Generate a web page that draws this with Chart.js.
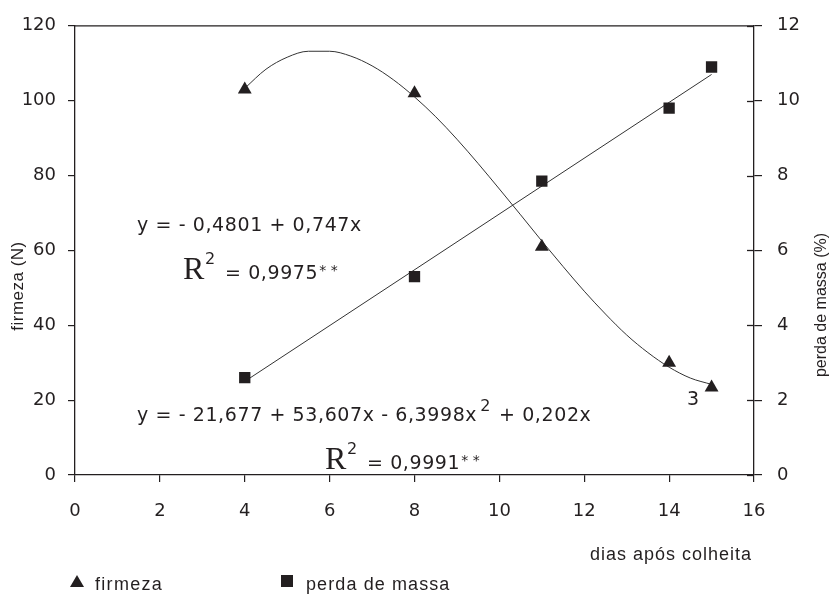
<!DOCTYPE html>
<html>
<head>
<meta charset="utf-8">
<script src="https://cdn.jsdelivr.net/npm/chart.js@4.4.1/dist/chart.umd.min.js"></script>
<style>
  html, body { margin: 0; background: #fff; }
  canvas { display: block; }
</style>
</head>
<body>
<canvas id="chart" width="832" height="596"></canvas>
<script>
// measured points
const days = [4, 8, 11, 14, 15];
const firmeza = [103, 102, 61, 30, 23.4];
const perdaMassa = [2.6, 5.3, 7.85, 9.8, 10.9];

// fitted curve for firmeza
const curveDays = [4, 4.5, 5, 5.5, 6, 6.5, 7, 7.5, 8, 8.5, 9, 9.5, 10,
  10.5, 11, 11.5, 12, 12.5, 13, 13.5, 14, 14.5, 15];
const curveFirmeza = [103.3, 108.4, 111.6, 113.2, 113.2, 111.9, 109.3, 105.6,
  101.0, 95.7, 89.7, 83.2, 76.4, 69.5, 62.5, 55.7, 49.1, 43.0, 37.4, 32.7,
  28.8, 25.9, 24.2];

// fitted line for perda de massa
const lineDays = [4, 15];
const linePerda = [2.5, 10.7];

// tick labels
const xTicks = [0, 2, 4, 6, 8, 10, 12, 14, 16];
const leftTicks = [0, 20, 40, 60, 80, 100, 120];
const rightTicks = [0, 2, 4, 6, 8, 10, 12];

const ink = "#231f20";
const tickFont = { family: "DejaVu Sans", size: 18 };

function toPoints(xs, ys) {
  return xs.map((x, i) => ({ x: x, y: ys[i] }));
}

// draw text with letter spacing
function spaced(ctx, text, x, y, font, spacing) {
  ctx.font = font;
  ctx.letterSpacing = spacing + "px";
  ctx.fillText(text, x, y);
  let w = ctx.measureText(text).width;
  ctx.letterSpacing = "0px";
  return x + w;
}

const extras = {
  id: "extras",
  afterDraw(chart) {
    const ctx = chart.ctx;
    const area = chart.chartArea;
    const y1 = chart.scales.y1;
    ctx.save();
    ctx.strokeStyle = ink;
    ctx.fillStyle = ink;
    ctx.lineWidth = 1.3;

    // top border
    ctx.beginPath();
    ctx.moveTo(area.left, area.top);
    ctx.lineTo(area.right, area.top);
    ctx.stroke();

    // inner half of the right axis ticks
    rightTicks.forEach(v => {
      let py = Math.round(y1.getPixelForValue(v)) + 0.5;
      ctx.beginPath();
      ctx.moveTo(area.right - 7, py);
      ctx.lineTo(area.right, py);
      ctx.stroke();
    });

    ctx.textBaseline = "alphabetic";
    ctx.textAlign = "left";
    const eqFont = "19px 'DejaVu Sans'";

    // linear fit equation
    spaced(ctx, "y = - 0,4801 + 0,747x", 137, 231, eqFont, 0.6);
    ctx.font = "32px 'Liberation Serif'";
    ctx.fillText("R", 183, 279);
    spaced(ctx, "2", 205, 264, "16px 'DejaVu Sans'", 0);
    let nx = spaced(ctx, "= 0,9975", 225, 279, eqFont, 0.6);
    spaced(ctx, "* *", nx + 1, 275, "14px 'DejaVu Sans'", 0);

    // cubic fit equation
    let ex = spaced(ctx, "y = - 21,677 + 53,607x - 6,3998x", 137, 421, eqFont, 0.6);
    ex = spaced(ctx, "2", ex + 3, 411, "16px 'DejaVu Sans'", 0);
    spaced(ctx, " + 0,202x", ex + 2, 421, eqFont, 0.6);
    spaced(ctx, "3", 687, 405, eqFont, 0);
    ctx.font = "32px 'Liberation Serif'";
    ctx.fillText("R", 325, 469);
    spaced(ctx, "2", 347, 454, "16px 'DejaVu Sans'", 0);
    nx = spaced(ctx, "= 0,9991", 367, 469, eqFont, 0.6);
    spaced(ctx, "* *", nx + 1, 465, "14px 'DejaVu Sans'", 0);

    // x axis title
    spaced(ctx, "dias após colheita", 590, 560, "18px 'Liberation Sans'", 1);

    // y axis titles
    ctx.textAlign = "center";
    ctx.textBaseline = "middle";
    ctx.save();
    ctx.translate(18, 286);
    ctx.rotate(-Math.PI / 2);
    spaced(ctx, "firmeza (N)", 0, 0, "17px 'Liberation Sans'", 0.5);
    ctx.restore();
    ctx.save();
    ctx.translate(822, 305);
    ctx.rotate(-Math.PI / 2);
    spaced(ctx, "perda de massa (%)", 0, 0, "16px 'Liberation Sans'", 0);
    ctx.restore();

    // legend
    ctx.textAlign = "left";
    ctx.textBaseline = "alphabetic";
    ctx.beginPath();
    ctx.moveTo(77, 575);
    ctx.lineTo(84, 587);
    ctx.lineTo(70, 587);
    ctx.closePath();
    ctx.fill();
    spaced(ctx, "firmeza", 95, 590, "18px 'Liberation Sans'", 1.3);
    ctx.fillRect(281, 575, 12, 12);
    spaced(ctx, "perda de massa", 306, 590, "18px 'Liberation Sans'", 1.1);

    ctx.restore();
  }
};

function fixedTicks(list) {
  return function (scale) {
    scale.ticks = list.map(v => ({ value: v }));
  };
}

const ctx = document.getElementById("chart").getContext("2d");

new Chart(ctx, {
  type: "scatter",
  data: {
    datasets: [
      {
        label: "firmeza",
        data: toPoints(days, firmeza),
        yAxisID: "y",
        pointStyle: "triangle",
        pointRadius: 8,
        backgroundColor: ink,
        borderWidth: 0,
        order: 0,
      },
      {
        label: "perda de massa",
        data: toPoints(days, perdaMassa),
        yAxisID: "y1",
        pointStyle: "rect",
        pointRadius: 8,
        backgroundColor: ink,
        borderWidth: 0,
        order: 0,
      },
      {
        label: "ajuste firmeza",
        data: toPoints(curveDays, curveFirmeza),
        yAxisID: "y",
        showLine: true,
        pointRadius: 0,
        borderColor: "#333",
        borderWidth: 1,
        cubicInterpolationMode: "monotone",
        order: 1,
      },
      {
        label: "ajuste perda",
        data: toPoints(lineDays, linePerda),
        yAxisID: "y1",
        showLine: true,
        pointRadius: 0,
        borderColor: "#333",
        borderWidth: 1,
        order: 1,
      },
    ],
  },
  options: {
    responsive: false,
    animation: false,
    devicePixelRatio: 1,
    layout: { padding: { top: 13, left: 0, right: 0, bottom: 0 } },
    plugins: {
      legend: { display: false },
      tooltip: { enabled: false },
    },
    scales: {
      x: {
        type: "linear",
        min: 0,
        max: 16,
        afterBuildTicks: fixedTicks(xTicks),
        afterFit: s => { s.height = 121; },
        grid: { drawOnChartArea: false, tickLength: 7, color: ink, lineWidth: 1.2 },
        border: { color: ink, width: 1.3 },
        ticks: { font: tickFont, color: ink, padding: 19, maxRotation: 0 },
      },
      y: {
        position: "left",
        min: 0,
        max: 120,
        afterBuildTicks: fixedTicks(leftTicks),
        afterFit: s => { s.width = 75; },
        grid: { drawOnChartArea: false, tickLength: 7, color: ink, lineWidth: 1.2 },
        border: { color: ink, width: 1.3 },
        ticks: { font: tickFont, color: ink, padding: 12 },
      },
      y1: {
        position: "right",
        min: 0,
        max: 12,
        afterBuildTicks: fixedTicks(rightTicks),
        afterFit: s => { s.width = 78; },
        grid: { drawOnChartArea: false, tickLength: 8, color: ink, lineWidth: 1.2 },
        border: { color: ink, width: 1.3 },
        ticks: { font: tickFont, color: ink, padding: 15 },
      },
    },
  },
  plugins: [extras],
});
</script>
</body>
</html>
